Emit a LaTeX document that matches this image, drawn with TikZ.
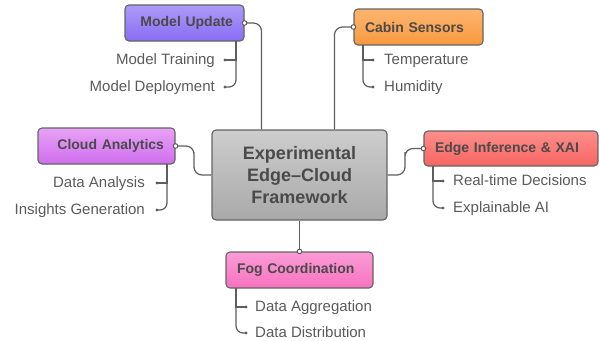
\documentclass[tikz,border=0pt]{standalone}
\usepackage{fontspec}
\setmainfont{Liberation Sans}
\usetikzlibrary{calc}
\definecolor{edgegray}{HTML}{646464}
\definecolor{linegray}{HTML}{5E5E5E}
\definecolor{boxtext}{HTML}{4A4A4A}
\definecolor{leaftext}{HTML}{5A5A5A}
\definecolor{muT}{HTML}{AC9BF8}\definecolor{muB}{HTML}{8A6CF4}
\definecolor{csT}{HTML}{FDB56E}\definecolor{csB}{HTML}{F8993F}
\definecolor{caT}{HTML}{E8A2F6}\definecolor{caB}{HTML}{CF6EEE}
\definecolor{eiT}{HTML}{FF8E8A}\definecolor{eiB}{HTML}{F66563}
\definecolor{fcT}{HTML}{FC9BD6}\definecolor{fcB}{HTML}{F772BF}
\definecolor{ceT}{HTML}{CDCDCD}\definecolor{ceB}{HTML}{A9A9A9}
\begin{document}
\begin{tikzpicture}[x=1pt,y=-1pt,
  box/.style={draw=edgegray, line width=1.1pt, rounded corners=4pt,
    font=\fontsize{14}{16}\selectfont\bfseries, text=boxtext,
    inner xsep=11pt, inner ysep=0pt, minimum height=36pt},
  leaf/.style={font=\fontsize{15}{17}\selectfont, text=leaftext, inner sep=0pt,
    text height=1.5ex, text depth=.5ex, yshift=-2pt},
  link/.style={draw=linegray, line width=1.2pt},
  lastlink/.style={link, rounded corners=7pt},
]
\useasboundingbox (0,0) rectangle (599,340);

% central node
\node[draw=edgegray, line width=1.1pt, rounded corners=4pt, top color=ceT, bottom color=ceB,
  minimum width=175pt, minimum height=90pt, inner sep=0pt, align=center,
  font=\fontsize{18}{22}\selectfont\bfseries, text=boxtext] (center) at (299.5,175)
  {Experimental\\Edge–Cloud\\Framework};

% branch nodes
\node[box, top color=muT, bottom color=muB, minimum width=119pt, text width=97pt, align=right] (mu) at (184.5,23) {Model Update};
\node[box, top color=csT, bottom color=csB, minimum width=129pt, text width=107pt, align=left] (cs) at (418.5,27) {Cabin Sensors};
\node[box, top color=caT, bottom color=caB, minimum width=137pt, text width=115pt, align=right] (ca) at (106.5,146) {Cloud Analytics};
\node[box, top color=eiT, bottom color=eiB, minimum width=174pt, text width=152pt, align=left, minimum height=35pt] (ei) at (511,148.5) {Edge Inference \& XAI};
\node[box, top color=fcT, bottom color=fcB, minimum width=147pt, text width=125pt, align=left] (fc) at (299.5,270) {Fog Coordination};

% main connectors
\coordinate (muin) at ($(center.north west)+(50,0)$);
\coordinate (csin) at ($(center.north west)+(123,0)$);
\draw[link, rounded corners=8pt] (mu.east) -| (muin);
\draw[link, rounded corners=8pt] (cs.west) -| (csin);
\draw[link, rounded corners=8pt] (ca.east) -| (194,160) |- (center.west);
\draw[link, rounded corners=8pt] (center.east) -| (405,160) |- (ei.west);
\draw[link] (center.south) -- (fc.north);

% ports
\foreach \p in {mu.east, cs.west, ca.east, ei.west, fc.north}
  \draw[link, line width=1pt, fill=white] (\p) circle (2.3pt);

% leaves: Model Update
\node[leaf, anchor=east] (mt) at (215,60) {Model Training};
\node[leaf, anchor=east] (md) at (215,87) {Model Deployment};
\coordinate (mub) at (236,41);
\coordinate (mtd) at (225,60);
\coordinate (mdd) at (225,87);
\draw[link] (mub) |- (mtd);
\draw[lastlink] (mub) |- (mdd);

% leaves: Cabin Sensors
\node[leaf, anchor=west] (te) at (384,60) {Temperature};
\node[leaf, anchor=west] (hu) at (384,87) {Humidity};
\coordinate (csb) at (363,45);
\coordinate (ted) at (373,60);
\coordinate (hud) at (373,87);
\draw[link] (csb) |- (ted);
\draw[lastlink] (csb) |- (hud);

% leaves: Cloud Analytics
\node[leaf, anchor=east] (da) at (145,183) {Data Analysis};
\node[leaf, anchor=east] (ig) at (145,210) {Insights Generation};
\coordinate (cab) at (167,164);
\coordinate (dad) at (157,183);
\coordinate (igd) at (157,210);
\draw[link] (cab) |- (dad);
\draw[lastlink] (cab) |- (igd);

% leaves: Edge Inference
\node[leaf, anchor=west] (rt) at (453,181) {Real-time Decisions};
\node[leaf, anchor=west] (xa) at (453,208) {Explainable AI};
\coordinate (eib) at (433,166);
\coordinate (rtd) at (443,181);
\coordinate (xad) at (443,208);
\draw[link] (eib) |- (rtd);
\draw[lastlink] (eib) |- (xad);

% leaves: Fog Coordination
\node[leaf, anchor=west] (dg) at (255,307) {Data Aggregation};
\node[leaf, anchor=west] (dd) at (255,333) {Data Distribution};
\coordinate (fcb) at (236,288);
\coordinate (dgd) at (246,307);
\coordinate (ddd) at (246,333);
\draw[link] (fcb) |- (dgd);
\draw[lastlink] (fcb) |- (ddd);

% leaf dots
\foreach \d in {mtd, mdd, ted, hud, dad, igd, rtd, xad, dgd, ddd}
  \fill[linegray] (\d) circle (1.7pt);
\end{tikzpicture}
\end{document}
